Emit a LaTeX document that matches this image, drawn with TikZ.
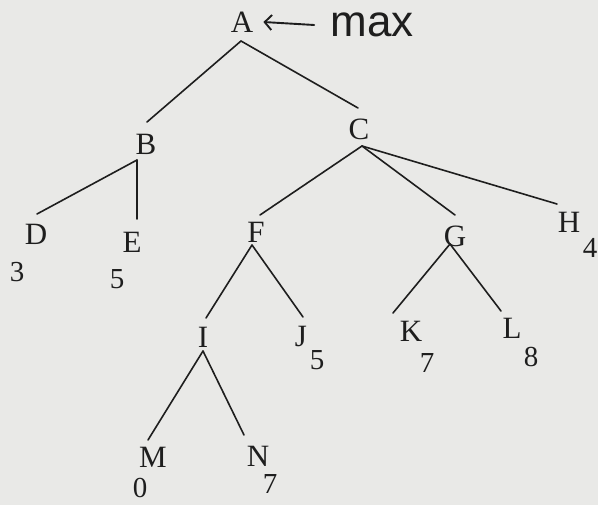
\documentclass[tikz,border=0pt]{standalone}
\usepackage{fontspec}
\setmainfont{Liberation Serif}
\newfontfamily\handfont{Liberation Sans}
\usetikzlibrary{arrows.meta}
\definecolor{paper}{RGB}{233,233,231}
\definecolor{ink}{RGB}{30,30,30}
\begin{document}
\begin{tikzpicture}[x=1pt,y=-1pt,
  lbl/.style={inner sep=0pt, text=ink, font=\fontsize{31}{31}\selectfont},
  num/.style={inner sep=0pt, text=ink, font=\fontsize{29}{29}\selectfont},
  hand/.style={inner sep=0pt, text=ink, font=\handfont\fontsize{44}{44}\selectfont},
  edge/.style={draw=ink, line width=1.6pt, line cap=round},
  pointer/.style={draw=ink, line width=1.9pt, line cap=round, -{Straight Barb[length=7pt,width=15pt]}}
]
\fill[paper] (0,0) rectangle (598,505);
\useasboundingbox (0,0) rectangle (598,505);

% tree nodes
\node[lbl] (A) at (242,22) {A};
\node[lbl] (B) at (146,144) {B};
\node[lbl] (C) at (359,129) {C};
\node[lbl] (D) at (36,234) {D};
\node[lbl] (E) at (132,242) {E};
\node[lbl] (F) at (256,232) {F};
\node[lbl] (G) at (455,236) {G};
\node[lbl] (H) at (569,222) {H};
\node[lbl] (I) at (203,337) {I};
\node[lbl] (J) at (301,337) {J};
\node[lbl] (K) at (411,331) {K};
\node[lbl] (L) at (512,328) {L};
\node[lbl] (M) at (153,457) {M};
\node[lbl] (N) at (258,456) {N};

% leaf values
\node[num] (vD) at (17,272) {3};
\node[num] (vE) at (117,279) {5};
\node[num] (vH) at (590,248) {4};
\node[num] (vJ) at (317,360) {5};
\node[num] (vK) at (427,363) {7};
\node[num] (vL) at (531,357) {8};
\node[num] (vM) at (140,488) {0};
\node[num] (vN) at (270,484) {7};

% annotation
\node[hand] (mx) at (372,25) {max};
\draw[pointer] ([xshift=-16pt]mx.west) -- ([xshift=10pt]A.east);

% connector end points
\coordinate (A-b) at (241,41);
\coordinate (B-t) at (147,122);
\coordinate (B-b) at (137,160);
\coordinate (C-t) at (358,108);
\coordinate (C-b) at (362,146);
\coordinate (D-t) at (37,214);
\coordinate (E-t) at (137,219);
\coordinate (F-t) at (260,215);
\coordinate (F-b) at (252,245);
\coordinate (G-t) at (455,215);
\coordinate (G-b) at (450,244);
\coordinate (H-t) at (557,204);
\coordinate (I-t) at (206,318);
\coordinate (I-b) at (203,351);
\coordinate (J-t) at (303,317);
\coordinate (K-t) at (393,313);
\coordinate (L-t) at (501,311);
\coordinate (M-t) at (148,440);
\coordinate (N-t) at (244,435);

% edges
\draw[edge] (A-b) -- (B-t);
\draw[edge] (A-b) -- (C-t);
\draw[edge] (B-b) -- (D-t);
\draw[edge] (B-b) -- (E-t);
\draw[edge] (C-b) -- (F-t);
\draw[edge] (C-b) -- (G-t);
\draw[edge] (C-b) -- (H-t);
\draw[edge] (F-b) -- (I-t);
\draw[edge] (F-b) -- (J-t);
\draw[edge] (G-b) -- (K-t);
\draw[edge] (G-b) -- (L-t);
\draw[edge] (I-b) -- (M-t);
\draw[edge] (I-b) -- (N-t);
\end{tikzpicture}
\end{document}
